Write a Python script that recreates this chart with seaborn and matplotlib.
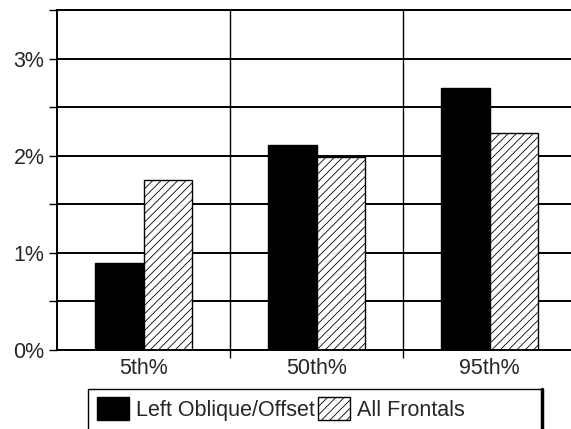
import matplotlib
matplotlib.use('Agg')
import matplotlib.pyplot as plt
import seaborn as sns
import pandas as pd
from matplotlib.patches import Patch, Rectangle
from matplotlib.lines import Line2D
from matplotlib.ticker import FuncFormatter, MultipleLocator, FixedLocator, NullFormatter

categories = ["5th%", "50th%", "95th%"]
series_names = ["Left Oblique/Offset", "All Frontals"]
left_oblique = [0.90, 2.11, 2.70]
all_frontals = [1.75, 1.99, 2.23]

df = pd.DataFrame({
    "cat": categories * 2,
    "val": left_oblique + all_frontals,
    "series": [series_names[0]] * 3 + [series_names[1]] * 3,
})

sns.set_style("white")
plt.rcParams['font.family'] = ['Liberation Sans', 'DejaVu Sans']
plt.rcParams['hatch.linewidth'] = 0.6

W, H = 571, 429
fig = plt.figure(figsize=(W / 100, H / 100), dpi=100)
ax = fig.add_axes([57 / W, 79 / H, 519 / W, 340 / H])

sns.barplot(data=df, x="cat", y="val", hue="series", order=categories,
            hue_order=series_names, palette=["black", "white"], saturation=1,
            width=0.56, edgecolor="black", linewidth=1, ax=ax, legend=False)

for bar in ax.containers[1]:
    bar.set_hatch("////")

ax.set_xlim(-0.5, 2.5)
ax.set_ylim(0, 3.5)
ax.set_axisbelow(True)

ax.yaxis.set_major_locator(MultipleLocator(1))
ax.yaxis.set_minor_locator(MultipleLocator(0.5))
ax.yaxis.set_major_formatter(FuncFormatter(lambda v, p: f"{int(round(v))}%"))
ax.yaxis.set_minor_formatter(NullFormatter())
ax.xaxis.set_minor_locator(FixedLocator([0.5, 1.5, 2.5]))

ax.grid(which="both", axis="y", color="black", linewidth=1.4)
ax.grid(which="minor", axis="x", color="black", linewidth=1.0)
ax.grid(which="major", axis="x", visible=False)

ax.tick_params(axis="y", which="both", direction="out", length=6, width=1,
               color="black", left=True, labelsize=15.5, pad=3)
ax.tick_params(axis="x", which="major", length=0, labelsize=15.5, pad=6)
ax.tick_params(axis="x", which="minor", direction="out", length=6, width=1,
               color="black", bottom=True)
ax.set_xlabel("")
ax.set_ylabel("")

for s in ["left", "top", "bottom"]:
    ax.spines[s].set_visible(True)
    ax.spines[s].set_color("black")
    ax.spines[s].set_linewidth(1.4)
ax.spines["right"].set_visible(False)

handles = [Patch(facecolor="black", edgecolor="black"),
           Patch(facecolor="white", edgecolor="black", hatch="////")]
fig.legend(handles, series_names, loc="upper left",
           bbox_to_anchor=(97 / W, (H - 397) / H), frameon=False,
           ncol=2, fontsize=15.5, handlelength=1.5, handleheight=1.3,
           handletextpad=0.3, columnspacing=0.15, borderpad=0, borderaxespad=0)

fig.patches.append(Rectangle((88 / W, -0.05), (542 - 88) / W, (H - 389) / H + 0.05,
                             transform=fig.transFigure, fill=False,
                             edgecolor="black", linewidth=1))
fig.lines.append(Line2D([542 / W, 542 / W], [-0.05, (H - 389) / H],
                        transform=fig.transFigure, color="black", linewidth=2.5))

fig.savefig("out.png", dpi=100)
